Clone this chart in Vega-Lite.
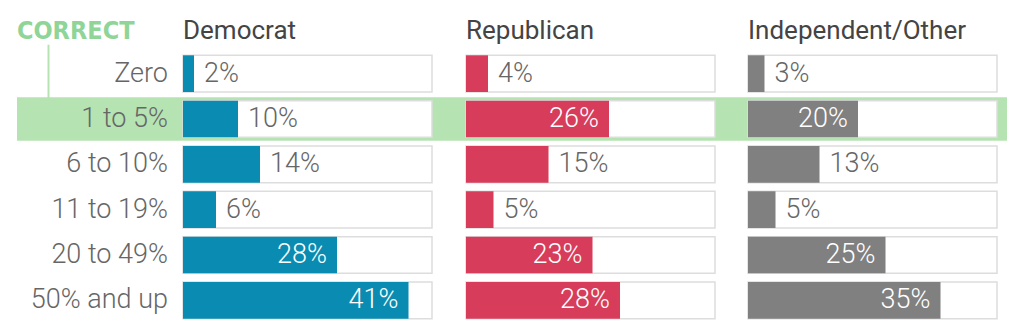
{
  "$schema": "https://vega.github.io/schema/vega-lite/v6.json",
  "padding": {"left": 17, "right": 17, "top": 18, "bottom": 12},
  "background": "white",
  "width": 990,
  "height": 272,
  "config": {
    "view": {"stroke": null},
    "text": {"font": "Roboto", "fontSize": 27, "fontWeight": 300}
  },
  "data": {
    "values": [
      {"party": "Democrat", "row": "Zero", "value": 2, "label": "2%"},
      {"party": "Democrat", "row": "1 to 5%", "value": 10, "label": "10%"},
      {"party": "Democrat", "row": "6 to 10%", "value": 14, "label": "14%"},
      {"party": "Democrat", "row": "11 to 19%", "value": 6, "label": "6%"},
      {"party": "Democrat", "row": "20 to 49%", "value": 28, "label": "28%"},
      {"party": "Democrat", "row": "50% and up", "value": 41, "label": "41%"},
      {"party": "Republican", "row": "Zero", "value": 4, "label": "4%"},
      {"party": "Republican", "row": "1 to 5%", "value": 26, "label": "26%"},
      {"party": "Republican", "row": "6 to 10%", "value": 15, "label": "15%"},
      {"party": "Republican", "row": "11 to 19%", "value": 5, "label": "5%"},
      {"party": "Republican", "row": "20 to 49%", "value": 23, "label": "23%"},
      {"party": "Republican", "row": "50% and up", "value": 28, "label": "28%"},
      {"party": "Independent/Other", "row": "Zero", "value": 3, "label": "3%"},
      {"party": "Independent/Other", "row": "1 to 5%", "value": 20, "label": "20%"},
      {"party": "Independent/Other", "row": "6 to 10%", "value": 13, "label": "13%"},
      {"party": "Independent/Other", "row": "11 to 19%", "value": 5, "label": "5%"},
      {"party": "Independent/Other", "row": "20 to 49%", "value": 25, "label": "25%"},
      {"party": "Independent/Other", "row": "50% and up", "value": 35, "label": "35%"}
    ]
  },
  "encoding": {
    "y": {"field": "row", "type": "nominal", "axis": null, "scale": {"domain": ["Zero", "1 to 5%", "6 to 10%", "11 to 19%", "20 to 49%", "50% and up"], "paddingInner": 0.19, "paddingOuter": 0.095}}
  },
  "layer": [
    {
      "transform": [{"filter": "datum.party === 'Democrat' && datum.row === '1 to 5%'"}],
      "mark": {"type": "rect", "fill": "#b6e3b2", "stroke": "#b6e3b2", "strokeWidth": 7},
      "encoding": {
        "x": {"datum": 0, "type": "quantitative", "scale": {"domain": [0, 1], "range": [3.5, 986.5], "nice": false, "zero": false}, "axis": null},
        "x2": {"datum": 1}
      }
    },
    {
      "transform": [{"filter": "datum.party === 'Democrat' && datum.row === 'Zero'"}],
      "mark": {"type": "rect", "fill": "#b6e3b2", "height": 58},
      "encoding": {
        "x": {"datum": 0, "type": "quantitative", "scale": {"domain": [0, 1], "range": [30.5, 32.5], "nice": false, "zero": false}, "axis": null},
        "x2": {"datum": 1}
      }
    },
    {
      "transform": [{"filter": "datum.party === 'Democrat'"}],
      "mark": {"type": "rect", "fill": "white", "stroke": "#dddddd", "strokeWidth": 1.5},
      "encoding": {"x": {"datum": 0, "type": "quantitative", "scale": {"domain": [0, 45.27], "range": [166, 415], "nice": false, "zero": false}, "axis": null}, "x2": {"datum": 45.27}}
    },
    {
      "transform": [{"filter": "datum.party === 'Republican'"}],
      "mark": {"type": "rect", "fill": "white", "stroke": "#dddddd", "strokeWidth": 1.5},
      "encoding": {"x": {"datum": 0, "type": "quantitative", "scale": {"domain": [0, 45.27], "range": [449, 698], "nice": false, "zero": false}, "axis": null}, "x2": {"datum": 45.27}}
    },
    {
      "transform": [{"filter": "datum.party === 'Independent/Other'"}],
      "mark": {"type": "rect", "fill": "white", "stroke": "#dddddd", "strokeWidth": 1.5},
      "encoding": {"x": {"datum": 0, "type": "quantitative", "scale": {"domain": [0, 45.27], "range": [731, 980], "nice": false, "zero": false}, "axis": null}, "x2": {"datum": 45.27}}
    },
    {
      "transform": [{"filter": "datum.party === 'Democrat'"}],
      "mark": {"type": "bar", "color": "#0a8bb1"},
      "encoding": {"x": {"field": "value", "type": "quantitative", "scale": {"domain": [0, 45.27], "range": [166, 415], "nice": false, "zero": false}, "axis": null}}
    },
    {
      "transform": [{"filter": "datum.party === 'Republican'"}],
      "mark": {"type": "bar", "color": "#d73c5b"},
      "encoding": {"x": {"field": "value", "type": "quantitative", "scale": {"domain": [0, 45.27], "range": [449, 698], "nice": false, "zero": false}, "axis": null}}
    },
    {
      "transform": [{"filter": "datum.party === 'Independent/Other'"}],
      "mark": {"type": "bar", "color": "#808080"},
      "encoding": {"x": {"field": "value", "type": "quantitative", "scale": {"domain": [0, 45.27], "range": [731, 980], "nice": false, "zero": false}, "axis": null}}
    },
    {
      "transform": [{"filter": "datum.party === 'Democrat' && datum.value < 20"}],
      "mark": {"type": "text", "align": "left", "baseline": "middle", "dx": 10, "color": "#666666"},
      "encoding": {"x": {"field": "value", "type": "quantitative", "scale": {"domain": [0, 45.27], "range": [166, 415], "nice": false, "zero": false}, "axis": null}, "text": {"field": "label"}}
    },
    {
      "transform": [{"filter": "datum.party === 'Democrat' && datum.value >= 20"}],
      "mark": {"type": "text", "align": "right", "baseline": "middle", "dx": -10, "color": "white"},
      "encoding": {"x": {"field": "value", "type": "quantitative", "scale": {"domain": [0, 45.27], "range": [166, 415], "nice": false, "zero": false}, "axis": null}, "text": {"field": "label"}}
    },
    {
      "transform": [{"filter": "datum.party === 'Republican' && datum.value < 20"}],
      "mark": {"type": "text", "align": "left", "baseline": "middle", "dx": 10, "color": "#666666"},
      "encoding": {"x": {"field": "value", "type": "quantitative", "scale": {"domain": [0, 45.27], "range": [449, 698], "nice": false, "zero": false}, "axis": null}, "text": {"field": "label"}}
    },
    {
      "transform": [{"filter": "datum.party === 'Republican' && datum.value >= 20"}],
      "mark": {"type": "text", "align": "right", "baseline": "middle", "dx": -10, "color": "white"},
      "encoding": {"x": {"field": "value", "type": "quantitative", "scale": {"domain": [0, 45.27], "range": [449, 698], "nice": false, "zero": false}, "axis": null}, "text": {"field": "label"}}
    },
    {
      "transform": [{"filter": "datum.party === 'Independent/Other' && datum.value < 20"}],
      "mark": {"type": "text", "align": "left", "baseline": "middle", "dx": 10, "color": "#666666"},
      "encoding": {"x": {"field": "value", "type": "quantitative", "scale": {"domain": [0, 45.27], "range": [731, 980], "nice": false, "zero": false}, "axis": null}, "text": {"field": "label"}}
    },
    {
      "transform": [{"filter": "datum.party === 'Independent/Other' && datum.value >= 20"}],
      "mark": {"type": "text", "align": "right", "baseline": "middle", "dx": -10, "color": "white"},
      "encoding": {"x": {"field": "value", "type": "quantitative", "scale": {"domain": [0, 45.27], "range": [731, 980], "nice": false, "zero": false}, "axis": null}, "text": {"field": "label"}}
    },
    {
      "transform": [{"filter": "datum.party === 'Democrat'"}],
      "mark": {"type": "text", "align": "right", "baseline": "middle", "color": "#666666"},
      "encoding": {"x": {"datum": -2.73, "type": "quantitative", "scale": {"domain": [0, 45.27], "range": [166, 415], "nice": false, "zero": false}, "axis": null}, "text": {"field": "row"}}
    },
    {
      "transform": [{"filter": "datum.party === 'Democrat' && datum.row === 'Zero'"}],
      "mark": {"type": "text", "align": "left", "baseline": "alphabetic", "dy": -34.5, "color": "#444444", "fontSize": 26, "fontWeight": 400},
      "encoding": {"x": {"datum": 0, "type": "quantitative", "scale": {"domain": [0, 45.27], "range": [166, 415], "nice": false, "zero": false}, "axis": null}, "text": {"field": "party"}}
    },
    {
      "transform": [{"filter": "datum.party === 'Republican' && datum.row === 'Zero'"}],
      "mark": {"type": "text", "align": "left", "baseline": "alphabetic", "dy": -34.5, "color": "#444444", "fontSize": 26, "fontWeight": 400},
      "encoding": {"x": {"datum": 0, "type": "quantitative", "scale": {"domain": [0, 45.27], "range": [449, 698], "nice": false, "zero": false}, "axis": null}, "text": {"field": "party"}}
    },
    {
      "transform": [{"filter": "datum.party === 'Independent/Other' && datum.row === 'Zero'"}],
      "mark": {"type": "text", "align": "left", "baseline": "alphabetic", "dy": -34.5, "color": "#444444", "fontSize": 26, "fontWeight": 400},
      "encoding": {"x": {"datum": 0, "type": "quantitative", "scale": {"domain": [0, 45.27], "range": [731, 980], "nice": false, "zero": false}, "axis": null}, "text": {"field": "party"}}
    },
    {
      "transform": [{"filter": "datum.party === 'Democrat' && datum.row === 'Zero'"}],
      "mark": {"type": "text", "align": "left", "baseline": "alphabetic", "dy": -34.5, "color": "#8fd597", "fontSize": 25, "fontWeight": 700, "font": "DejaVu Sans Condensed, Roboto, sans-serif"},
      "encoding": {"x": {"datum": 0, "type": "quantitative", "scale": {"domain": [0, 1], "range": [0, 990], "nice": false, "zero": false}, "axis": null}, "text": {"value": "CORRECT"}}
    }
  ],
  "resolve": {"scale": {"x": "independent"}}
}
